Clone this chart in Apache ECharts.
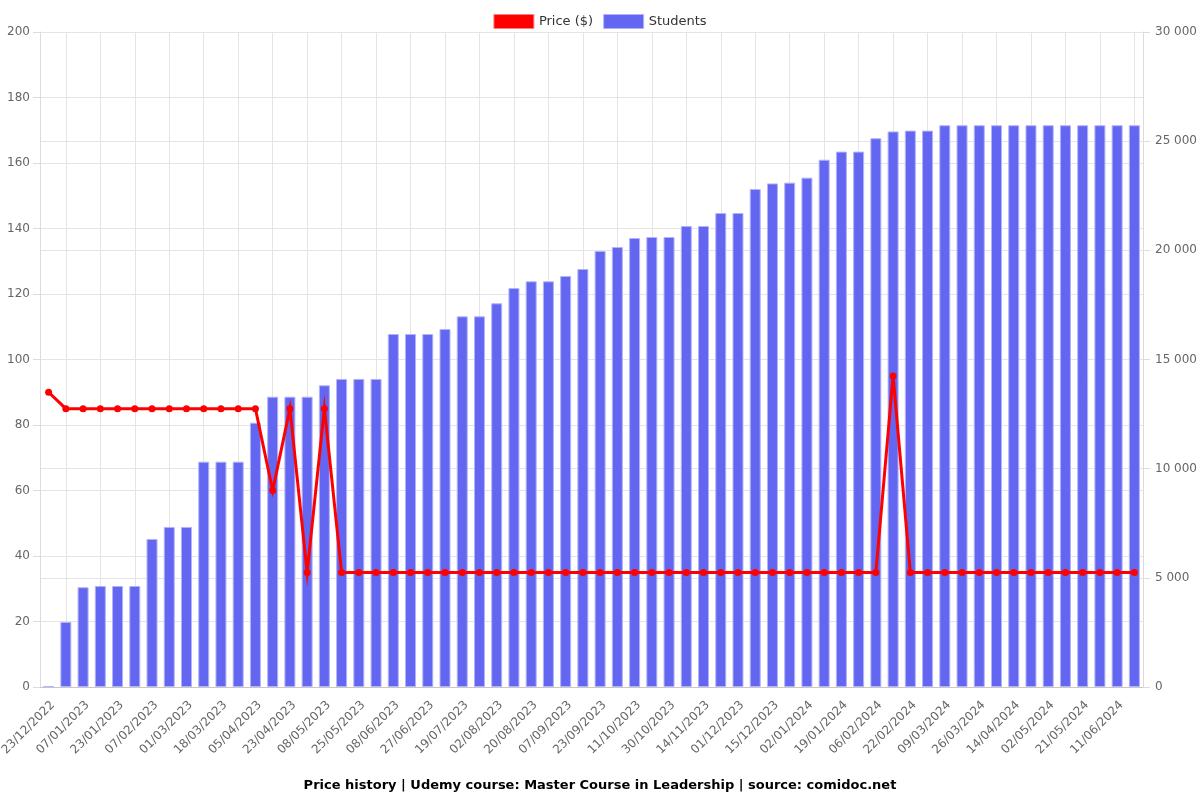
<!DOCTYPE html>
<html>
<head>
<meta charset="utf-8">
<script src="https://cdn.jsdelivr.net/npm/echarts@6/dist/echarts.min.js"></script>
<style>html,body{margin:0;padding:0;background:#fff;}#c{width:1200px;height:800px;}</style>
</head>
<body>
<div id="c"></div>
<script>
const dates = [
  '23/12/2022','30/12/2022','07/01/2023','15/01/2023','23/01/2023','31/01/2023','07/02/2023','18/02/2023',
  '01/03/2023','09/03/2023','18/03/2023','27/03/2023','05/04/2023','14/04/2023','23/04/2023','30/04/2023',
  '08/05/2023','16/05/2023','25/05/2023','01/06/2023','08/06/2023','17/06/2023','27/06/2023','08/07/2023',
  '19/07/2023','26/07/2023','02/08/2023','11/08/2023','20/08/2023','29/08/2023','07/09/2023','15/09/2023',
  '23/09/2023','02/10/2023','11/10/2023','20/10/2023','30/10/2023','06/11/2023','14/11/2023','22/11/2023',
  '01/12/2023','08/12/2023','15/12/2023','24/12/2023','02/01/2024','10/01/2024','19/01/2024','28/01/2024',
  '06/02/2024','14/02/2024','22/02/2024','01/03/2024','09/03/2024','17/03/2024','26/03/2024','05/04/2024',
  '14/04/2024','23/04/2024','02/05/2024','11/05/2024','21/05/2024','31/05/2024','11/06/2024','20/06/2024'
];
const price = [
  89.99, 84.99, 84.99, 84.99, 84.99, 84.99, 84.99, 84.99,
  84.99, 84.99, 84.99, 84.99, 84.99, 59.99, 84.99, 34.99,
  84.99, 34.99, 34.99, 34.99, 34.99, 34.99, 34.99, 34.99,
  34.99, 34.99, 34.99, 34.99, 34.99, 34.99, 34.99, 34.99,
  34.99, 34.99, 34.99, 34.99, 34.99, 34.99, 34.99, 34.99,
  34.99, 34.99, 34.99, 34.99, 34.99, 34.99, 34.99, 34.99,
  34.99, 94.99, 34.99, 34.99, 34.99, 34.99, 34.99, 34.99,
  34.99, 34.99, 34.99, 34.99, 34.99, 34.99, 34.99, 34.99
];
const students = [
  30, 2980, 4570, 4626, 4626, 4626, 6780, 7330,
  7330, 10320, 10320, 10320, 12105, 13296, 13296, 13296,
  13818, 14110, 14110, 14110, 16167, 16167, 16167, 16396,
  16977, 16977, 17573, 18274, 18581, 18581, 18824, 19144,
  19969, 20152, 20564, 20610, 20610, 21114, 21114, 21709,
  21709, 22808, 23065, 23101, 23330, 24150, 24521, 24521,
  25135, 25446, 25483, 25483, 25730, 25730, 25730, 25730,
  25730, 25730, 25730, 25730, 25730, 25730, 25730, 25730
];
const leftTicks = { min: 0, max: 200, interval: 20 };
const rightTicks = { min: 0, max: 30000, interval: 5000 };
const titleText = 'Price history | Udemy course: Master Course in Leadership | source: comidoc.net';

const FONT = 'DejaVu Sans';
const grid = '#e4e4e4';
const chart = echarts.init(document.getElementById('c'), null, { renderer: 'canvas' });
const oddIdx = (i) => i % 2 === 1;
chart.setOption({
  animation: false,
  textStyle: { fontFamily: FONT },
  title: {
    text: titleText, left: 'center', top: 774,
    textStyle: { fontFamily: FONT, fontSize: 13, fontWeight: 'bold', color: '#000' }
  },
  legend: {
    top: 9, left: 'center', itemWidth: 40, itemHeight: 14, itemGap: 10,
    data: [
      { name: 'Price ($)', icon: 'rect', itemStyle: { color: '#ff0000', borderColor: '#ff8080', borderWidth: 1 } },
      { name: 'Students', icon: 'rect', itemStyle: { color: '#6366f1', borderColor: '#b3b4f7', borderWidth: 1 } }
    ],
    textStyle: { fontFamily: FONT, fontSize: 13, color: '#333' }
  },
  grid: { left: 40, right: 57, top: 32, bottom: 113, containLabel: false, outerBoundsMode: 'none' },
  xAxis: {
    type: 'category', data: dates, boundaryGap: true,
    axisLine: { lineStyle: { color: '#c8c8c8' } },
    axisTick: { alignWithLabel: true, interval: oddIdx, length: 8, lineStyle: { color: '#dcdcdc' } },
    splitLine: { show: true, alignWithLabel: true, interval: oddIdx, lineStyle: { color: grid } },
    axisLabel: {
      interval: (i) => i % 2 === 0, rotate: 45, margin: 12, verticalAlign: 'top',
      fontFamily: FONT, fontSize: 12, color: '#666'
    }
  },
  yAxis: [
    {
      type: 'value', min: leftTicks.min, max: leftTicks.max, interval: leftTicks.interval,
      axisLine: { show: true, lineStyle: { color: '#dcdcdc' } },
      axisTick: { show: true, length: 7, lineStyle: { color: '#dcdcdc' } },
      splitLine: { show: true, lineStyle: { color: grid } },
      axisLabel: { fontFamily: FONT, fontSize: 12, color: '#666', margin: 10 }
    },
    {
      type: 'value', min: rightTicks.min, max: rightTicks.max, interval: rightTicks.interval,
      position: 'right',
      axisLine: { show: true, lineStyle: { color: '#dcdcdc' } },
      axisTick: { show: true, length: 7, lineStyle: { color: '#dcdcdc' } },
      splitLine: { show: true, lineStyle: { color: grid } },
      axisLabel: {
        fontFamily: FONT, fontSize: 12, color: '#666', margin: 12,
        formatter: (v) => String(v).replace(/\B(?=(\d{3})+(?!\d))/g, ' ')
      }
    }
  ],
  series: [
    {
      name: 'Price ($)', type: 'line', data: price, yAxisIndex: 0, z: 5,
      color: '#ff0000',
      symbol: 'circle', symbolSize: 7,
      itemStyle: { color: '#ff0000' },
      lineStyle: { color: '#ff0000', width: 3, join: 'miter', miterLimit: 10 }
    },
    {
      name: 'Students', type: 'bar', data: students, yAxisIndex: 1, z: 2,
      barWidth: 11,
      color: '#6366f1',
      itemStyle: { color: '#6366f1', borderColor: '#b3b4f7', borderWidth: 1 }
    }
  ]
});
</script>
</body>
</html>
